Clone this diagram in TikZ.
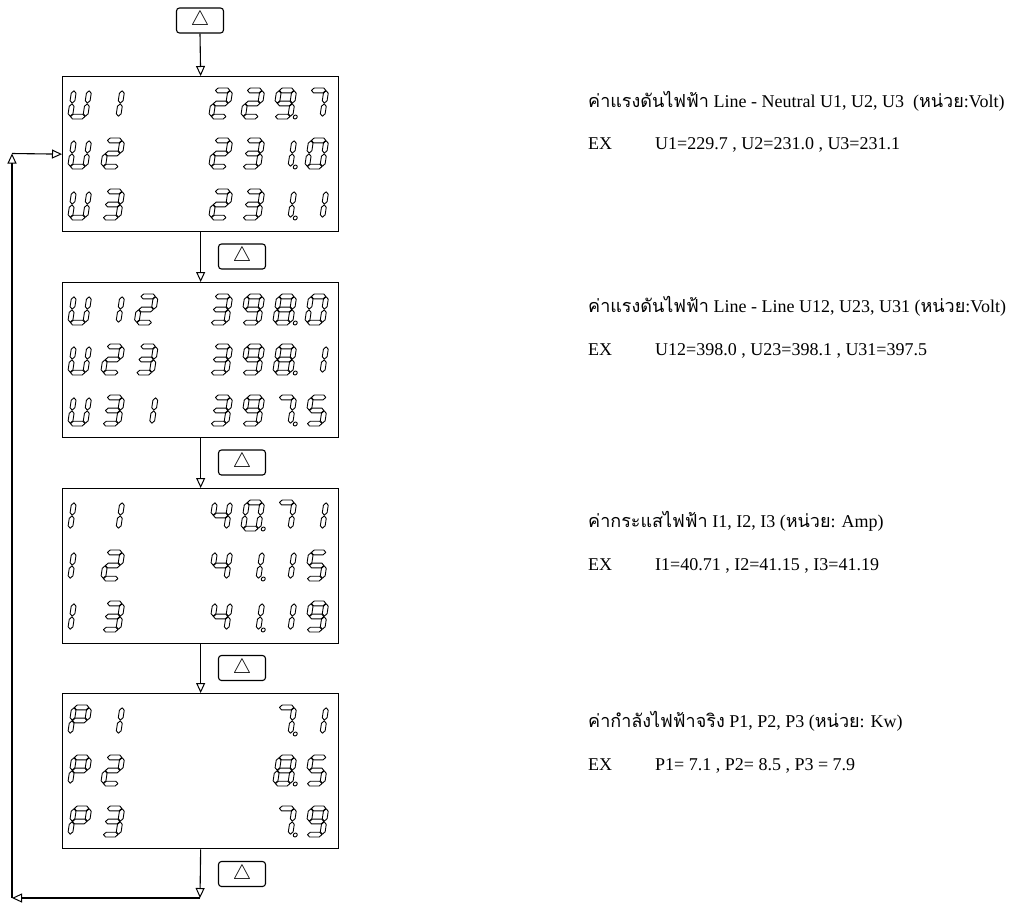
\documentclass[tikz,border=0pt]{standalone}
\usepackage{fontspec}
\setmainfont{Liberation Serif}
\newfontfamily\thai[Script=Thai]{Loma}
\usetikzlibrary{arrows.meta}
\tikzset{
  disp/.style={draw, line width=1.3pt, minimum width=276pt, minimum height=155pt, inner sep=0pt, anchor=north west},
  btn/.style={draw, rounded corners=3pt, line width=1.1pt, minimum width=47pt, minimum height=25pt, inner sep=0pt, font=\fontsize{20}{20}\selectfont},
  flow/.style={line width=1.1pt, -{Triangle[open, length=10pt, width=9pt, line width=1pt]}},
  seg/.style={line width=0.9pt, line join=round},
  lbl/.style={anchor=base west, inner sep=0pt, font=\fontsize{18}{22}\selectfont},
}
% seven-segment pieces, local coords (y downward), origin top-left
\newcommand\sga{\draw[seg] (2.8,2.4)--(5.2,0)--(14.8,0)--(17.2,2.4)--(14.8,4.8)--(5.2,4.8)--cycle;}
\newcommand\sgg{\draw[seg] (2.8,15.5)--(5.2,13.1)--(14.8,13.1)--(17.2,15.5)--(14.8,17.9)--(5.2,17.9)--cycle;}
\newcommand\sgd{\draw[seg] (2.8,28.6)--(5.2,26.2)--(14.8,26.2)--(17.2,28.6)--(14.8,31)--(5.2,31)--cycle;}
\newcommand\sgf{\draw[seg] (2.4,2.8)--(4.8,5.2)--(4.8,12.7)--(2.4,15.1)--(0,12.7)--(0,5.2)--cycle;}
\newcommand\sge{\draw[seg] (2.4,15.9)--(4.8,18.3)--(4.8,25.8)--(2.4,28.2)--(0,25.8)--(0,18.3)--cycle;}
\newcommand\sgb{\draw[seg] (17.6,2.8)--(20,5.2)--(20,12.7)--(17.6,15.1)--(15.2,12.7)--(15.2,5.2)--cycle;}
\newcommand\sgc{\draw[seg] (17.6,15.9)--(20,18.3)--(20,25.8)--(17.6,28.2)--(15.2,25.8)--(15.2,18.3)--cycle;}
\newcommand\sgp{\draw[seg] (22.6,29) circle (2);}
\newcommand\dg[3]{\begin{scope}[shift={(#1,#2)}, xslant=0.15]\edef\dglist{#3}\foreach \s in \dglist{\csname sg\s\endcsname}\end{scope}}
% digit sets
\def\Du{b,c,d,e,f}\def\DI{e,f}\def\DP{a,b,e,f,g}
\def\Da{b,c}\def\Db{a,b,g,e,d}\def\Dc{a,b,g,c,d}\def\Dd{f,g,b,c}
\def\De{a,f,g,c,d}\def\Dg{a,b,c}\def\Dh{a,b,c,d,e,f,g}\def\Di{a,b,c,d,f,g}\def\Dz{a,b,c,d,e,f}
% cell x positions
\def\La{72}\def\Lb{105}\def\Lc{138.5}
\def\Ra{213}\def\Rb{245}\def\Rc{277}\def\Rd{309}
\begin{document}
\begin{tikzpicture}[x=1pt, y=-1pt]
\useasboundingbox (0,0) rectangle (1016,903);

% displays
\node[disp] (d1) at (62,76) {};
\node[disp] (d2) at (62,282) {};
\node[disp] (d3) at (62,488) {};
\node[disp] (d4) at (62,693) {};

% buttons
\node[btn] (b0) at (200,20.5) {$\triangle$};
\node[btn] (b1) at (242,256.5) {$\triangle$};
\node[btn] (b2) at (242,462.5) {$\triangle$};
\node[btn] (b3) at (242,668) {$\triangle$};
\node[btn] (b4) at (242,874) {$\triangle$};

% flow
\coordinate (c1) at (200,898);
\coordinate (c2) at (12,898);
\coordinate (c3) at (12,153.5);
\draw[flow] (b0.south) -- (d1.north);
\draw[flow] (d1.south) -- (d2.north);
\draw[flow] (d2.south) -- (d3.north);
\draw[flow] (d3.south) -- (d4.north);
\draw[flow] (d4.south) -- (c1);
\draw[flow] (c1) -- (c2);
\draw[flow] (c2) -- (c3);
\draw[flow] (c3) -- (d1.west);

% display 1 : U1 229.7 / U2 231.0 / U3 231.1
\dg{\La}{88}{\Du}\dg{\Lb}{88}{\Da}
\dg{\Ra}{88}{\Db}\dg{\Rb}{88}{\Db}\dg{\Rc}{88}{\Di,p}\dg{\Rd}{88}{\Dg}
\dg{\La}{138}{\Du}\dg{\Lb}{138}{\Db}
\dg{\Ra}{138}{\Db}\dg{\Rb}{138}{\Dc}\dg{\Rc}{138}{\Da,p}\dg{\Rd}{138}{\Dz}
\dg{\La}{189}{\Du}\dg{\Lb}{189}{\Dc}
\dg{\Ra}{189}{\Db}\dg{\Rb}{189}{\Dc}\dg{\Rc}{189}{\Da,p}\dg{\Rd}{189}{\Da}

% display 2 : U12 398.0 / U23 398.1 / U31 397.5
\dg{\La}{294}{\Du}\dg{\Lb}{294}{\Da}\dg{\Lc}{294}{\Db}
\dg{\Ra}{294}{\Dc}\dg{\Rb}{294}{\Di}\dg{\Rc}{294}{\Dh,p}\dg{\Rd}{294}{\Dz}
\dg{\La}{344}{\Du}\dg{\Lb}{344}{\Db}\dg{\Lc}{344}{\Dc}
\dg{\Ra}{344}{\Dc}\dg{\Rb}{344}{\Di}\dg{\Rc}{344}{\Dh,p}\dg{\Rd}{344}{\Da}
\dg{\La}{395}{\Du}\dg{\Lb}{395}{\Dc}\dg{\Lc}{395}{\Da}
\dg{\Ra}{395}{\Dc}\dg{\Rb}{395}{\Di}\dg{\Rc}{395}{\Dg,p}\dg{\Rd}{395}{\De}

% display 3 : I1 40.71 / I2 41.15 / I3 41.19
\dg{\La}{500}{\DI}\dg{\Lb}{500}{\Da}
\dg{\Ra}{500}{\Dd}\dg{\Rb}{500}{\Dz,p}\dg{\Rc}{500}{\Dg}\dg{\Rd}{500}{\Da}
\dg{\La}{550}{\DI}\dg{\Lb}{550}{\Db}
\dg{\Ra}{550}{\Dd}\dg{\Rb}{550}{\Da,p}\dg{\Rc}{550}{\Da}\dg{\Rd}{550}{\De}
\dg{\La}{601}{\DI}\dg{\Lb}{601}{\Dc}
\dg{\Ra}{601}{\Dd}\dg{\Rb}{601}{\Da,p}\dg{\Rc}{601}{\Da}\dg{\Rd}{601}{\Di}

% display 4 : P1 7.1 / P2 8.5 / P3 7.9
\dg{\La}{705}{\DP}\dg{\Lb}{705}{\Da}
\dg{\Rc}{705}{\Dg,p}\dg{\Rd}{705}{\Da}
\dg{\La}{755}{\DP}\dg{\Lb}{755}{\Db}
\dg{\Rc}{755}{\Dh,p}\dg{\Rd}{755}{\De}
\dg{\La}{806}{\DP}\dg{\Lb}{806}{\Dc}
\dg{\Rc}{806}{\Dg,p}\dg{\Rd}{806}{\Di}

% descriptions
\node[lbl] (t1a) at (588,107) {{\thai ค่าแรงดันไฟฟ้า} Line - Neutral U1, U2, U3\ \ ({\thai หน่วย}:Volt)};
\node[lbl] (t1b) at (588,149) {\makebox[67pt][l]{EX}U1=229.7 , U2=231.0 , U3=231.1};
\node[lbl] (t2a) at (588,312) {{\thai ค่าแรงดันไฟฟ้า} Line - Line U12, U23, U31 ({\thai หน่วย}:Volt)};
\node[lbl] (t2b) at (588,355) {\makebox[67pt][l]{EX}U12=398.0 , U23=398.1 , U31=397.5};
\node[lbl] (t3a) at (588,527) {{\thai ค่ากระแสไฟฟ้า} I1, I2, I3 ({\thai หน่วย}: Amp)};
\node[lbl] (t3b) at (588,570) {\makebox[67pt][l]{EX}I1=40.71 , I2=41.15 , I3=41.19};
\node[lbl] (t4a) at (588,727) {{\thai ค่ากำลังไฟฟ้าจริง} P1, P2, P3 ({\thai หน่วย}: Kw)};
\node[lbl] (t4b) at (588,770) {\makebox[67pt][l]{EX}P1= 7.1 , P2= 8.5 , P3 = 7.9};
\end{tikzpicture}
\end{document}
